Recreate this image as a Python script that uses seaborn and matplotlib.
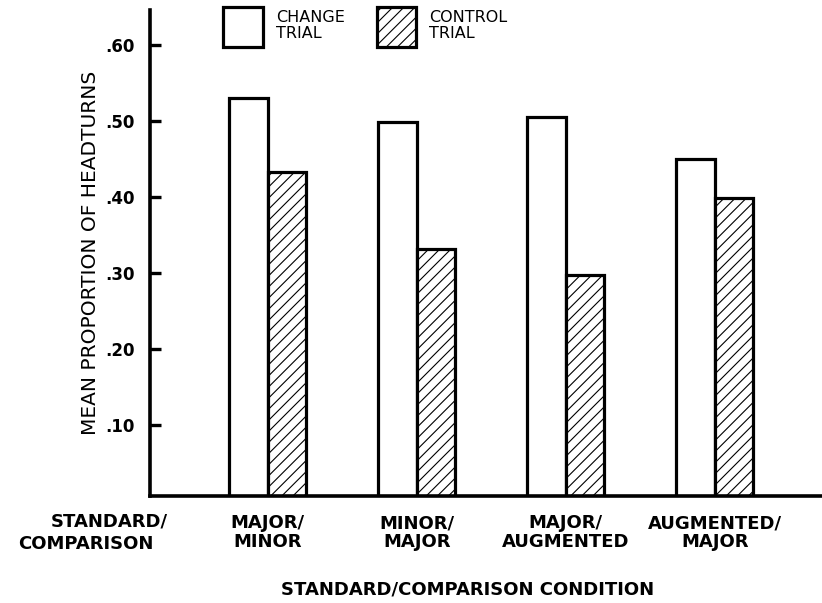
import pandas as pd
import matplotlib
matplotlib.use("Agg")
import matplotlib.pyplot as plt
from matplotlib.patches import Patch
import seaborn as sns

# values
conditions = ["MAJOR/\nMINOR", "MINOR/\nMAJOR", "MAJOR/\nAUGMENTED", "AUGMENTED/\nMAJOR"]
change_trial = [0.530, 0.498, 0.505, 0.450]
control_trial = [0.433, 0.331, 0.297, 0.399]
trials = ["CHANGE\nTRIAL", "CONTROL\nTRIAL"]
yticks = [0.10, 0.20, 0.30, 0.40, 0.50, 0.60]
ytick_labels = [".10", ".20", ".30", ".40", ".50", ".60"]

df = pd.DataFrame({
    "condition": conditions * 2,
    "trial": [trials[0]] * 4 + [trials[1]] * 4,
    "value": change_trial + control_trial,
})

sns.set_style("white")
plt.rcParams["font.family"] = ["DejaVu Sans"]
plt.rcParams["hatch.linewidth"] = 0.8
plt.rcParams["text.color"] = "black"
plt.rcParams["axes.labelcolor"] = "black"
plt.rcParams["xtick.color"] = "black"
plt.rcParams["ytick.color"] = "black"

fig = plt.figure(figsize=(8.22, 6.03), dpi=100)
ax = fig.add_axes([150 / 822, 1 - 496 / 603, 1 - 150 / 822, (496 - 10) / 603])

sns.barplot(data=df, x="condition", y="value", hue="trial", order=conditions,
            hue_order=trials, palette=["white", "white"], edgecolor="black",
            linewidth=2.3, width=0.52, legend=False, ax=ax)

for bar in ax.containers[1]:
    bar.set_hatch("///")

ax.set_xlim(-0.79, 3.72)
ax.set_ylim(0.0066, 0.646)
ax.set_yticks(yticks)
ax.set_yticklabels(ytick_labels, fontsize=12, fontweight="bold")
ax.tick_params(axis="y", direction="in", length=8, width=2.4, pad=11, left=True)
ax.tick_params(axis="x", length=0, pad=13, labelsize=13)
for lab in ax.get_xticklabels():
    lab.set_fontweight("bold")
    lab.set_linespacing(1.05)

for side in ["top", "right"]:
    ax.spines[side].set_visible(False)
for side in ["left", "bottom"]:
    ax.spines[side].set_linewidth(2.6)
    ax.spines[side].set_color("black")

ax.set_xlabel("")
ax.set_ylabel("MEAN PROPORTION OF HEADTURNS", fontsize=14.5, labelpad=4)

# row title left of the category labels
fig.text(109 / 822, 1 - 522 / 603, "STANDARD/", ha="center", va="center",
         fontsize=13, fontweight="bold")
fig.text(86 / 822, 1 - 544 / 603, "COMPARISON", ha="center", va="center",
         fontsize=13, fontweight="bold")
fig.text(468 / 822, 1 - 590 / 603, "STANDARD/COMPARISON CONDITION", ha="center",
         va="center", fontsize=13, fontweight="bold")

handles = [Patch(facecolor="white", edgecolor="black", linewidth=2.3),
           Patch(facecolor="white", edgecolor="black", linewidth=2.3, hatch="///")]
leg = fig.legend(handles, trials, loc="upper left", bbox_to_anchor=(223 / 822, 1 - 7 / 603),
                 ncol=2, frameon=False, fontsize=11.5, handlelength=2.5, handleheight=3.5,
                 handletextpad=0.8, columnspacing=2.0, borderpad=0, borderaxespad=0)
for t in leg.get_texts():
    t.set_linespacing(1.05)
    t.set_fontweight("medium")

fig.savefig("out.png", dpi=100)
